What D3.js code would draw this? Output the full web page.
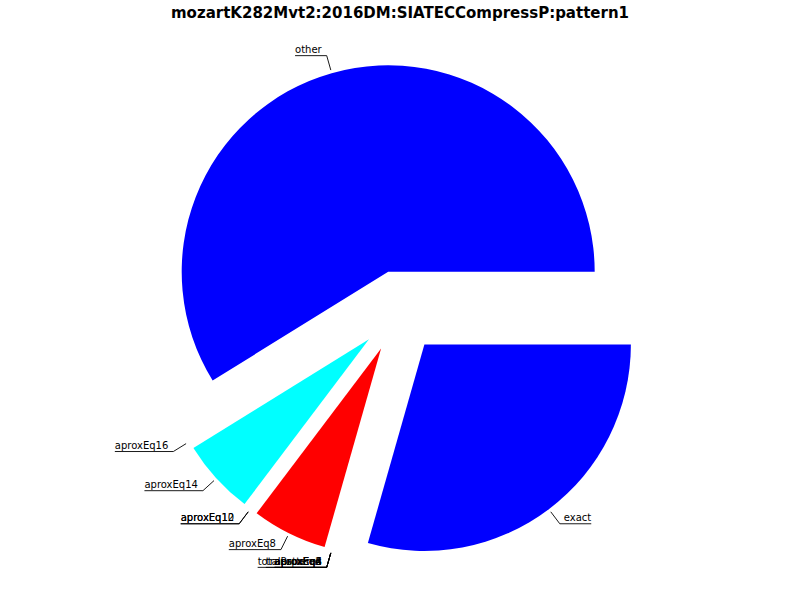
<!DOCTYPE html>
<html>
<head>
<meta charset="utf-8">
<script src="https://cdn.jsdelivr.net/npm/d3@7"></script>
<style>
  html, body { margin: 0; padding: 0; background: #fff; }
  svg { display: block; }
</style>
</head>
<body>
<svg id="chart" width="800" height="600"></svg>
<script>
// ---- data ----
const title = "mozartK282Mvt2:2016DM:SIATECCompressP:pattern1";
const categories = ["other", "aproxEq16", "aproxEq14", "aproxEq12", "aproxEq10", "aproxEq8",
                    "aproxEq6", "aproxEq4", "aproxEq2", "transposed", "totalPatterns", "exact"];
const values = [10, 0, 1, 0, 0, 1, 0, 0, 0, 0, 0, 5];
const colors = ["blue", "green", "cyan", "magenta", "yellow", "red",
                "black", "white", "green", "cyan", "magenta", "blue"];

// ---- layout ----
const W = 800, H = 600;
const cx = 399.5, cy = 311.5;
const R = 206.5;
const explode = 0.2;
const xyR = 251, anchorR = 266;

const svg = d3.select("#chart");

svg.append("text")
  .attr("x", W / 2).attr("y", 18)
  .attr("text-anchor", "middle")
  .attr("font-family", "DejaVu Sans, sans-serif")
  .attr("font-weight", "bold")
  .attr("font-size", "15px")
  .text(title);

const data = categories.map((c, i) => ({ name: c, value: values[i], color: colors[i] }));

// matplotlib: start at 3 o'clock, counter-clockwise
const pie = d3.pie().sort(null).value(d => d.value)
  .startAngle(Math.PI / 2).endAngle(Math.PI / 2 - 2 * Math.PI);
const arcs = pie(data);
const arc = d3.arc().innerRadius(0).outerRadius(R);

const g = svg.append("g").attr("transform", `translate(${cx},${cy})`);

g.selectAll("path.slice")
  .data(arcs.filter(a => a.value > 0))
  .join("path")
  .attr("class", "slice")
  .attr("fill", d => d.data.color)
  .attr("transform", d => {
    const m = (d.startAngle + d.endAngle) / 2;
    return `translate(${Math.sin(m) * explode * R},${-Math.cos(m) * explode * R})`;
  })
  .attr("d", arc);

// labels
const lab = g.selectAll("g.lab").data(arcs).join("g").attr("class", "lab");
lab.each(function (d) {
  const m = (d.startAngle + d.endAngle) / 2;
  const dx = Math.sin(m), dy = -Math.cos(m);
  const px = dx * xyR, py = dy * xyR;
  const ax = dx * anchorR, ay = dy * anchorR;
  const right = dx >= 0;
  const sel = d3.select(this);
  const t = sel.append("text")
    .attr("font-family", "DejaVu Sans, sans-serif")
    .attr("font-size", "10px")
    .attr("text-anchor", right ? "start" : "end")
    .attr("x", right ? ax + 4 : ax - 5)
    .attr("y", ay - 2.5)
    .text(d.data.name);
  const tw = t.node().getComputedTextLength();
  const farX = right ? ax + 4 + tw : ax - 5 - tw;
  sel.insert("path", "text")
    .attr("fill", "none")
    .attr("stroke", "black")
    .attr("stroke-width", 0.9)
    .attr("d", `M${farX},${ay}L${ax},${ay}L${px},${py}`);
});
</script>
</body>
</html>
